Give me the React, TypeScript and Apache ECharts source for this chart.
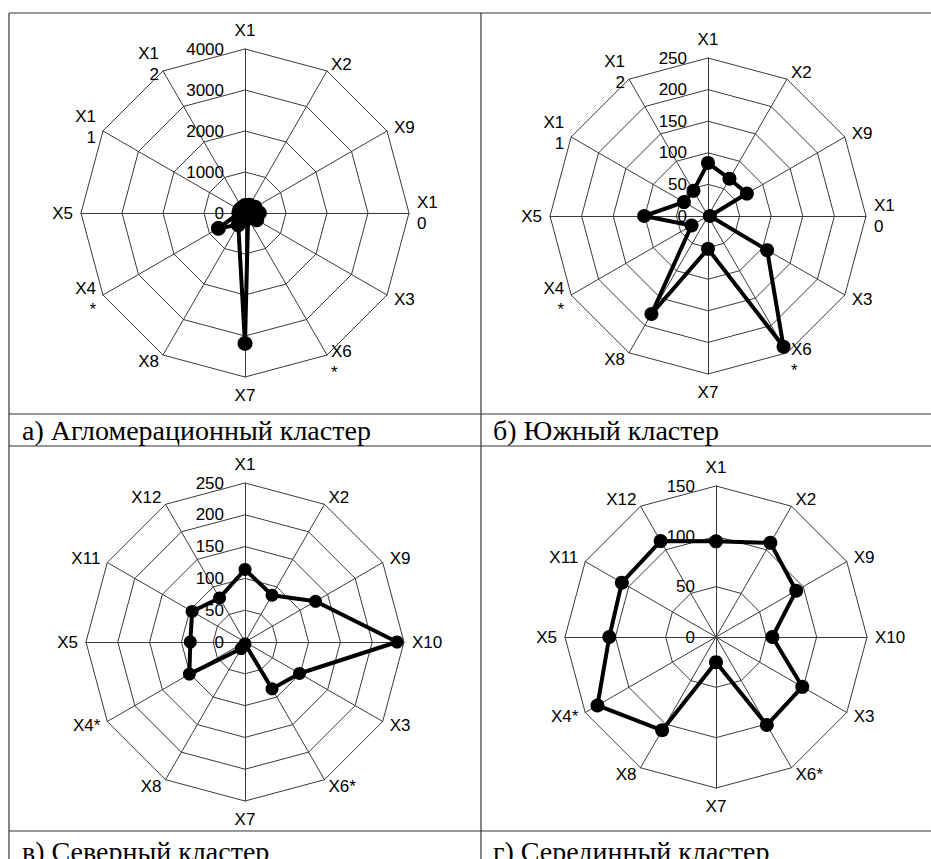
import React, { useEffect, useRef } from "react";
import * as echarts from "echarts";

// Axes in clockwise order starting from the top
const axesWrapped = ["X1", "X2", "X9", "X1\n0", "X3", "X6\n*", "X7", "X8", "X4\n*", "X5", "X1\n1", "X1\n2"];
const axesPlain = ["X1", "X2", "X9", "X10", "X3", "X6*", "X7", "X8", "X4*", "X5", "X11", "X12"];

// Values in the same clockwise order
const aggloValues = [180, 220, 280, 350, 330, 150, 3180, 330, 750, 150, 150, 150];
const southValues = [84, 68, 71, 3, 108, 239, 52, 179, 30, 101, 44, 46];
const northValues = [114, 85, 128, 239, 99, 85, 3, 12, 101, 86, 96, 80];
const middleValues = [95, 108, 92, 56, 99, 101, 25, 107, 136, 106, 108, 110];

// Tick labels
const aggloTicks = [0, 1000, 2000, 3000, 4000];
const southTicks = [0, 50, 100, 150, 200, 250];
const northTicks = [0, 50, 100, 150, 200, 250];
const middleTicks = [0, 50, 100, 150];

const captions = [
  "а) Агломерационный кластер",
  "б) Южный кластер",
  "в) Северный кластер",
  "г) Серединный кластер",
];

// ECharts lays indicators counter-clockwise; reorder so the picture runs clockwise
const toCcw = <T,>(arr: T[]): T[] => [arr[0], ...arr.slice(1).reverse()];

const GRID = "#3a3a3a";

function makeRadar(center: number[], radius: number, names: string[], ticks: number[]) {
  const max = ticks[ticks.length - 1];
  return {
    center,
    radius,
    shape: "polygon",
    startAngle: 90,
    splitNumber: ticks.length - 1,
    nameGap: 8,
    indicator: toCcw(names).map((n, i) =>
      i === 0
        ? { name: n, min: 0, max, axisLabel: { show: true } }
        : { name: n, min: 0, max }
    ),
    axisName: {
      color: "#000",
      fontSize: 17,
      fontFamily: "Liberation Sans",
      lineHeight: 21,
    },
    axisLine: { show: true, lineStyle: { color: GRID, width: 1 } },
    splitLine: { show: true, lineStyle: { color: GRID, width: 1 } },
    splitArea: { show: false },
    axisTick: { show: false },
    axisLabel: {
      show: false,
      color: "#000",
      fontSize: 17,
      fontFamily: "Liberation Sans",
      margin: 21,
      hideOverlap: false,
      showMinLabel: true,
      showMaxLabel: true,
      formatter: (v: number) => String(v),
    },
  };
}

function makeSeries(idx: number, values: number[], size: number) {
  return {
    type: "radar",
    radarIndex: idx,
    symbol: "circle",
    symbolSize: size,
    lineStyle: { color: "#000", width: 4 },
    itemStyle: { color: "#000" },
    data: [{ value: toCcw(values) }],
    z: 5,
  };
}

function makeTitle(text: string, left: number, top: number) {
  return {
    text,
    left,
    top,
    padding: 0,
    textStyle: {
      fontFamily: "Liberation Serif",
      fontSize: 28,
      fontWeight: "normal",
      color: "#000",
      lineHeight: 28,
    },
  };
}

export default function App() {
  const ref = useRef<HTMLDivElement>(null);

  useEffect(() => {
    if (!ref.current) return;
    const chart = echarts.init(ref.current, undefined, { renderer: "svg" });

    const lineStyle = { stroke: "#333", lineWidth: 1.2 };
    const hLine = (y: number, x1: number, x2: number) => ({
      type: "line",
      shape: { x1, y1: y, x2, y2: y },
      style: lineStyle,
      silent: true,
    });
    const vLine = (x: number, y1: number, y2: number) => ({
      type: "line",
      shape: { x1: x, y1, x2: x, y2 },
      style: lineStyle,
      silent: true,
    });

    chart.setOption({
      animation: false,
      backgroundColor: "#fff",
      title: [
        makeTitle(captions[0], 22, 416),
        makeTitle(captions[1], 493, 416),
        makeTitle(captions[2], 22, 837),
        makeTitle(captions[3], 493, 837),
      ],
      radar: [
        makeRadar([245, 213], 164, axesWrapped, aggloTicks),
        makeRadar([708, 216], 158, axesWrapped, southTicks),
        makeRadar([245, 642], 159, axesPlain, northTicks),
        makeRadar([716, 637], 151, axesPlain, middleTicks),
      ],
      series: [
        makeSeries(0, aggloValues, 15),
        makeSeries(1, southValues, 14),
        makeSeries(2, northValues, 13),
        makeSeries(3, middleValues, 14),
      ],
      graphic: [
        hLine(13, 9, 931),
        hLine(414, 9, 931),
        hLine(446, 9, 931),
        hLine(831, 9, 931),
        vLine(9, 13, 859),
        vLine(481, 13, 859),
      ],
    });

    return () => chart.dispose();
  }, []);

  return (
    <div
      ref={ref}
      style={{ position: "fixed", left: 0, top: 0, width: 931, height: 859 }}
    />
  );
}
